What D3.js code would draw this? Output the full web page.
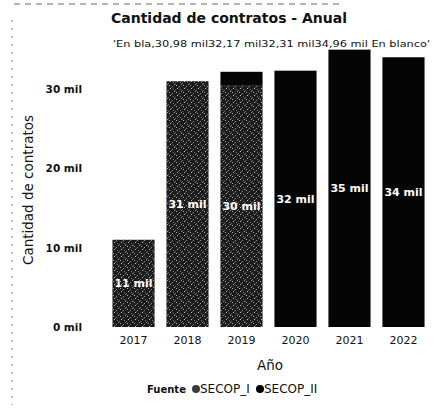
<!DOCTYPE html>
<html>
<head>
<meta charset="utf-8">
<script src="https://cdn.jsdelivr.net/npm/d3@7"></script>
<style>
  body { margin: 0; background: #fff; }
  text { font-family: "DejaVu Sans", sans-serif; }
</style>
</head>
<body>
<svg id="chart" width="446" height="408"></svg>
<script>
const years = ["2017", "2018", "2019", "2020", "2021", "2022"];
const secopI = [11.0, 30.98, 30.4, 0, 0, 0];
const secopII = [0, 0, 1.77, 32.31, 34.96, 34.0];
const yTicks = [0, 10, 20, 30];
const topLabels = "'En bla,30,98 mil32,17 mil32,31 mil34,96 mil En blanco'";

const svg = d3.select("#chart");
const colors = { I: "#3a3a3a", II: "#050505" };

// speckled fill for the scanned grey series
const defs = svg.append("defs");
const pat = defs.append("pattern")
  .attr("id", "speckle")
  .attr("width", 7).attr("height", 7)
  .attr("patternUnits", "userSpaceOnUse");
pat.append("rect").attr("width", 7).attr("height", 7).attr("fill", "#1c1c1c");
[[1, 1, "#aaa"], [4, 2, "#888"], [2, 4, "#bbb"], [5, 5, "#777"], [6, 0, "#999"], [0, 6, "#666"], [3, 3, "#555"]]
  .forEach(([px, py, c]) => pat.append("rect").attr("x", px).attr("y", py)
    .attr("width", 1).attr("height", 1).attr("fill", c));

const x = d3.scaleBand().domain(years).range([99.5, 437.5])
  .paddingInner(0.22).paddingOuter(0.24);
const y = d3.scaleLinear().domain([0, 30]).range([327, 89]);

// scan artefacts on the edges
svg.append("line").attr("x1", 12).attr("x2", 12).attr("y1", 20).attr("y2", 405)
  .attr("stroke", "#777").attr("stroke-dasharray", "2,6");
svg.append("line").attr("x1", 14).attr("x2", 340).attr("y1", 4).attr("y2", 4)
  .attr("stroke", "#666").attr("stroke-dasharray", "6,5");

// title
svg.append("text").attr("x", 229).attr("y", 23)
  .attr("text-anchor", "middle").attr("font-weight", "bold")
  .attr("font-size", 14).attr("fill", "#111")
  .text("Cantidad de contratos - Anual");

svg.append("text").attr("x", 113).attr("y", 47)
  .attr("font-size", 9.5).attr("fill", "#111")
  .attr("textLength", 317).attr("lengthAdjust", "spacingAndGlyphs")
  .text(topLabels);

// y axis
const yAxis = svg.append("g")
  .attr("transform", "translate(82,0)")
  .call(d3.axisLeft(y).tickValues(yTicks).tickSize(0).tickPadding(0)
    .tickFormat(d => d + " mil"));
yAxis.select(".domain").remove();
yAxis.selectAll("text").attr("font-size", 10.5).attr("font-weight", "bold").attr("fill", "#111")
  .attr("font-family", "DejaVu Sans Condensed, DejaVu Sans");

svg.append("text")
  .attr("transform", "translate(33,190) rotate(-90)")
  .attr("text-anchor", "middle").attr("font-size", 13.5).attr("fill", "#111")
  .text("Cantidad de contratos");

// x axis
const xAxis = svg.append("g")
  .attr("transform", "translate(0,333)")
  .call(d3.axisBottom(x).tickSize(0).tickPadding(3));
xAxis.select(".domain").remove();
xAxis.selectAll("text").attr("font-size", 11).attr("fill", "#111")
  .attr("font-family", "DejaVu Sans Mono, monospace");

svg.append("text").attr("x", 270).attr("y", 370)
  .attr("text-anchor", "middle").attr("font-size", 13.5).attr("fill", "#111")
  .text("Año");

// stacked bars
const rows = years.map((yr, i) => ({ year: yr, I: secopI[i], II: secopII[i] }));
const stack = d3.stack().keys(["I", "II"])(rows);

const groups = svg.append("g").selectAll("g").data(stack).join("g")
  .attr("fill", d => d.key === "I" ? "url(#speckle)" : colors.II);

groups.selectAll("rect").data(d => d).join("rect")
  .attr("x", d => x(d.data.year))
  .attr("y", d => y(d[1]))
  .attr("width", x.bandwidth())
  .attr("height", d => y(d[0]) - y(d[1]));

// value labels inside segments
stack.forEach(s => {
  svg.append("g").selectAll("text")
    .data(s.filter(d => d[1] - d[0] >= 5))
    .join("text")
    .attr("x", d => x(d.data.year) + x.bandwidth() / 2)
    .attr("y", d => y((d[0] + d[1]) / 2) + 4)
    .attr("text-anchor", "middle")
    .attr("font-size", 11).attr("font-weight", "bold").attr("fill", "#fff")
    .attr("font-family", "DejaVu Sans Condensed, DejaVu Sans")
    .text(d => Math.round(d[1] - d[0]) + " mil");
});

// legend
const legend = svg.append("g").attr("transform", "translate(147,393)");
legend.append("text").attr("x", 0).attr("y", 0)
  .attr("font-size", 10).attr("font-weight", "bold").attr("fill", "#111")
  .text("Fuente");
const items = [{ k: "SECOP_I", c: colors.I, x: 49 }, { k: "SECOP_II", c: "#000", x: 113 }];
const li = legend.selectAll(".li").data(items).join("g")
  .attr("transform", d => `translate(${d.x},0)`);
li.append("circle").attr("cx", 0).attr("cy", -4).attr("r", 4).attr("fill", d => d.c);
li.append("text").attr("x", 4).attr("y", 0)
  .attr("font-size", 12).attr("fill", "#111")
  .attr("font-family", "Liberation Serif, serif")
  .text(d => d.k);
</script>
</body>
</html>
